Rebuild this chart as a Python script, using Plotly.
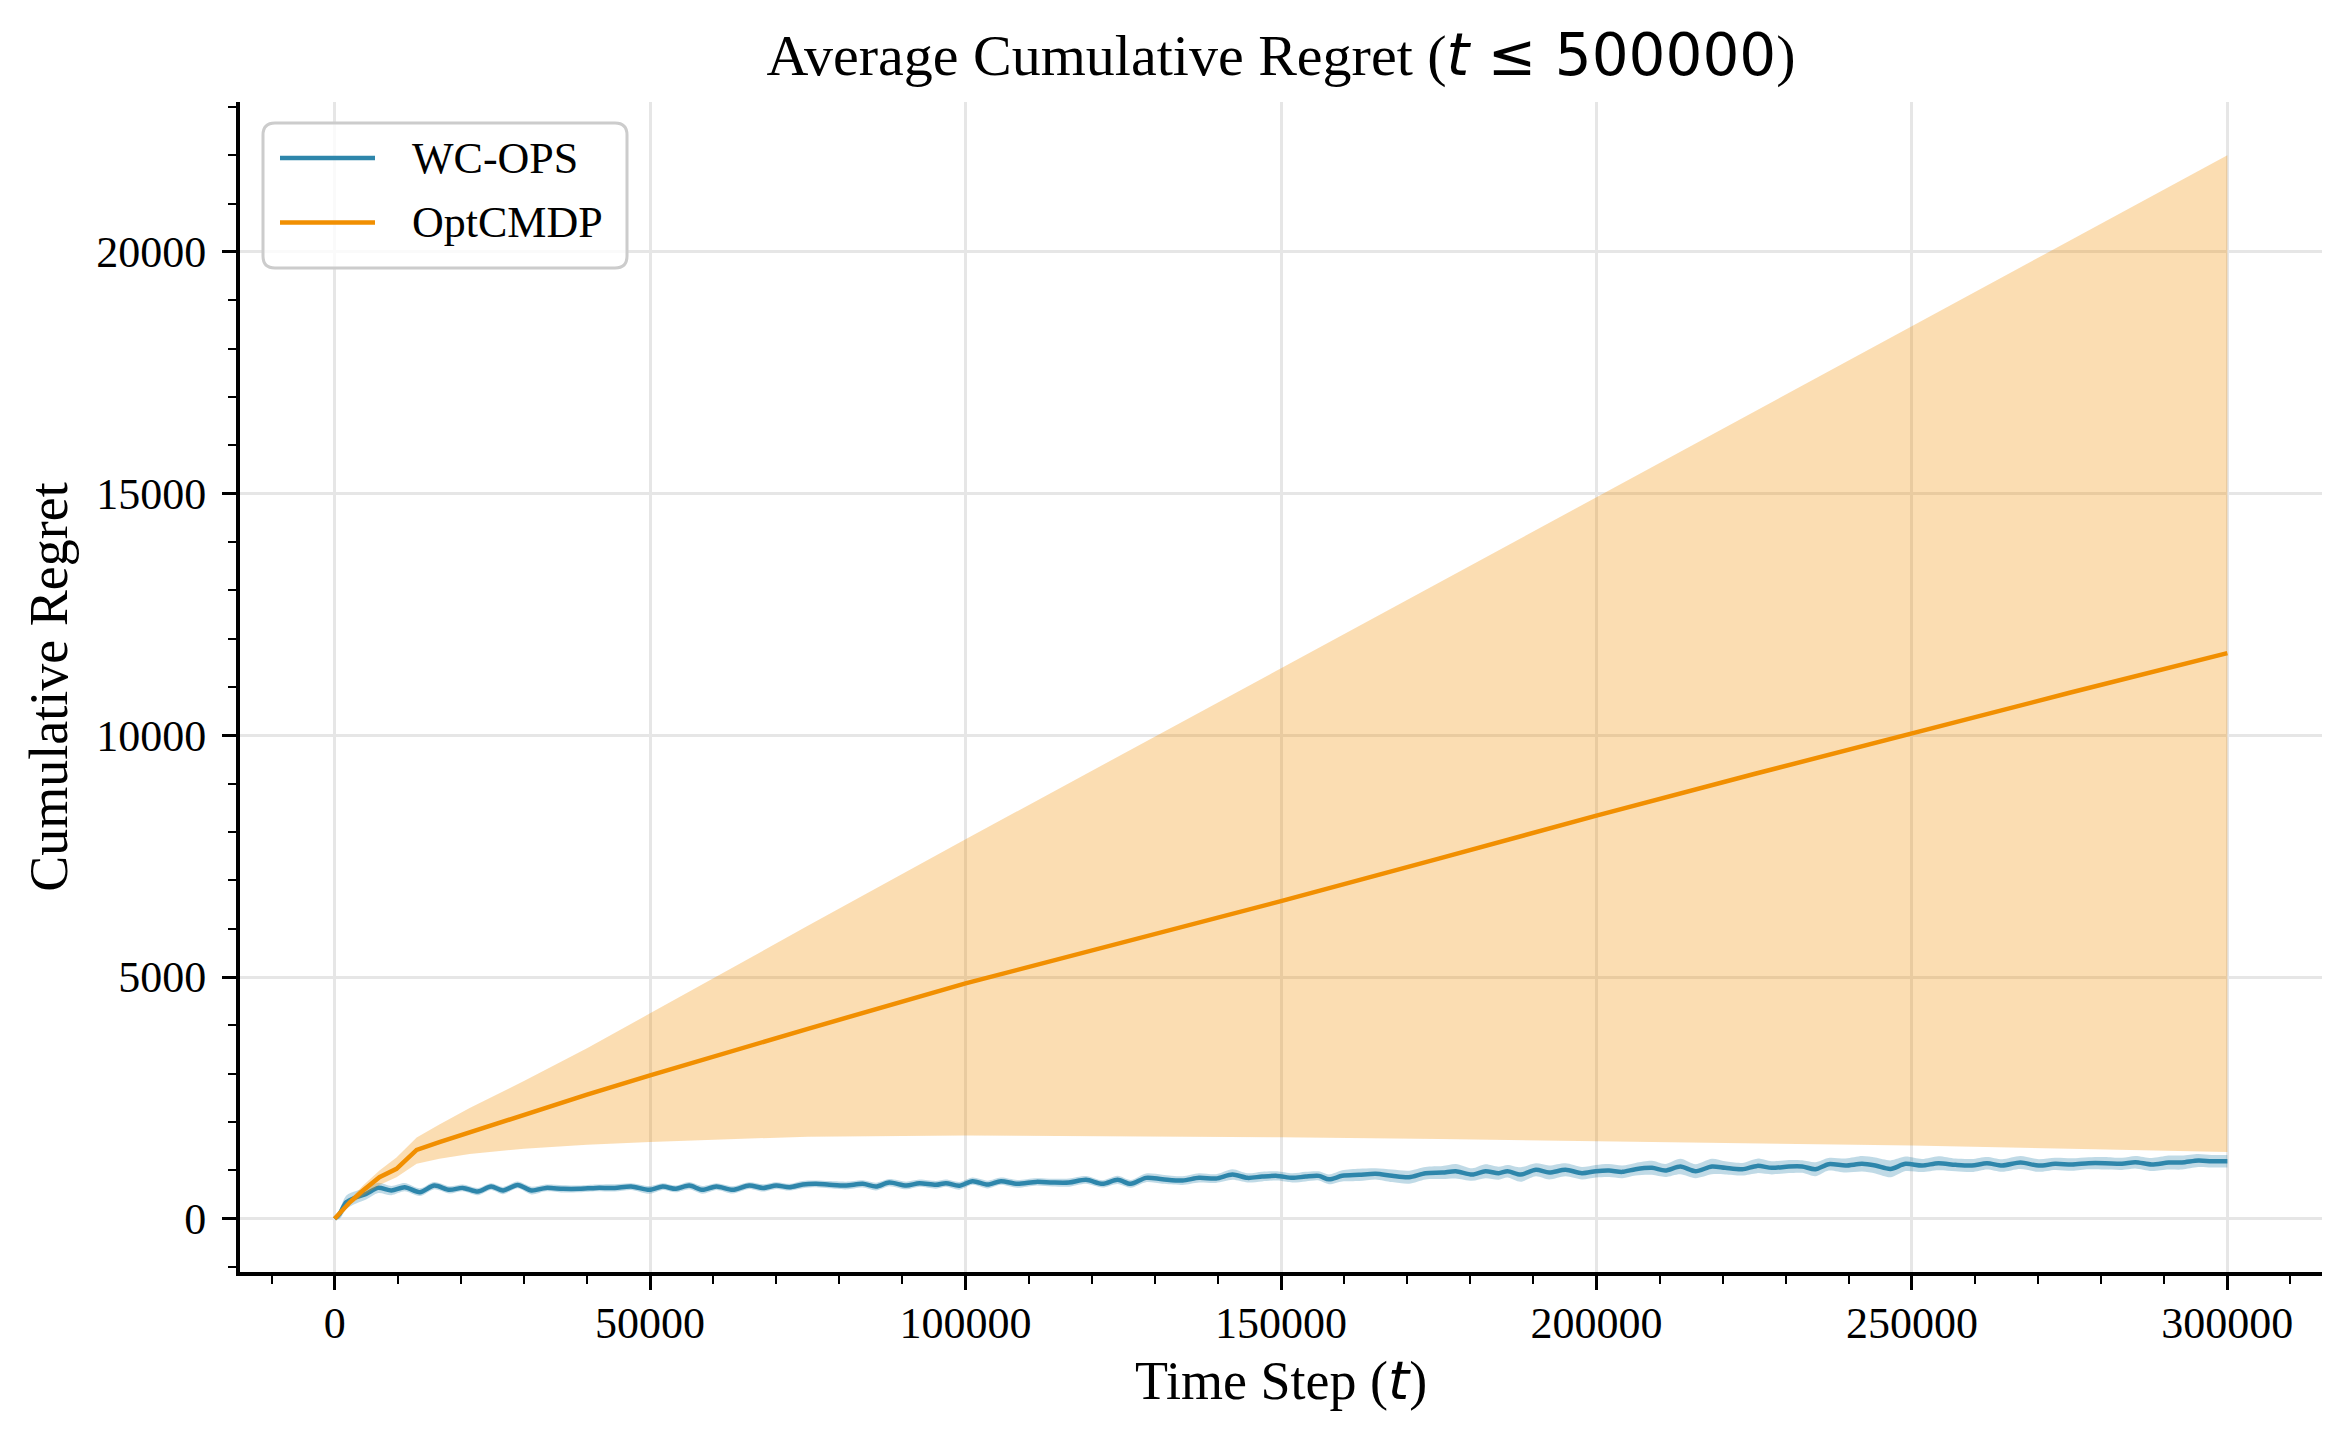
import plotly.graph_objects as go

# ---------------- data ----------------
wc_t = [0, 800, 1850, 3400, 5000, 6900, 9000, 11100, 13500, 15800,
        18200, 20300, 22700, 24800, 26700, 29000, 31200, 33500, 36200, 38800,
        41500, 44400, 47000, 49900, 52000, 54100, 56200, 58300, 60500, 63100,
        65700, 67900, 70000, 72100, 74200, 76300, 78400, 81100, 83700, 85800,
        87900, 90600, 92700, 95300, 96900, 99000, 101100, 103500, 105600, 108200,
        111200, 113800, 116400, 119100, 121700, 124100, 126200, 128600, 131200, 134400,
        137000, 139700, 142300, 144700, 147000, 149400, 151800, 153900, 156000, 157600,
        159700, 162400, 165000, 167600, 170300, 172900, 175600, 177700, 180300, 182400,
        184500, 185900, 188000, 190400, 192500, 195100, 197700, 199900, 202000, 204100,
        206200, 208800, 210900, 213300, 215700, 218300, 220400, 223100, 225500, 227800,
        230500, 232600, 234700, 236800, 239500, 242100, 244200, 246600, 249000, 251600,
        254200, 256900, 259500, 261900, 264300, 267200, 270100, 272700, 275400, 278000,
        280600, 283300, 285400, 288000, 290700, 292800, 295400, 297500, 300000]
wc_mean = [0, 103, 343, 447, 517, 640, 585, 654, 550, 688,
           599, 640, 564, 667, 585, 702, 585, 640, 620, 620,
           640, 640, 667, 599, 667, 620, 688, 599, 667, 599,
           688, 640, 688, 654, 709, 723, 706, 689, 723, 668,
           750, 689, 737, 703, 737, 682, 778, 709, 778, 723,
           764, 750, 750, 806, 723, 806, 723, 847, 819, 792,
           847, 833, 916, 847, 874, 888, 847, 874, 888, 816,
           889, 909, 930, 889, 861, 944, 957, 985, 916, 985,
           944, 985, 916, 1013, 957, 1013, 944, 985, 999, 971,
           1026, 1054, 999, 1081, 985, 1081, 1054, 1026, 1095, 1054,
           1081, 1081, 1026, 1130, 1102, 1137, 1102, 1033, 1137, 1102,
           1150, 1116, 1102, 1150, 1102, 1164, 1102, 1137, 1123, 1150,
           1150, 1137, 1171, 1123, 1164, 1164, 1205, 1191, 1191]
wc_std = [0, 100, 140, 130, 115, 105, 95, 85, 80, 75,
          75, 70, 75, 70, 75, 70, 80, 70, 75, 70,
          70, 75, 70, 80, 70, 70, 75, 80, 70, 75,
          70, 75, 70, 70, 75, 70, 75, 80, 75, 80,
          75, 80, 75, 80, 75, 80, 75, 80, 75, 80,
          75, 80, 85, 80, 75, 85, 80, 90, 95, 90,
          95, 90, 110, 95, 100, 95, 95, 100, 95, 100,
          115, 125, 115, 130, 135, 130, 135, 150, 130, 145,
          135, 130, 150, 135, 145, 135, 130, 130, 135, 130,
          130, 145, 135, 160, 145, 160, 135, 130, 150, 135,
          135, 130, 145, 130, 145, 160, 165, 175, 150, 135,
          145, 130, 135, 130, 130, 135, 130, 125, 130, 125,
          130, 125, 130, 135, 145, 145, 135, 130, 130]

opt_t = [0, 1300, 2400, 4500, 7100, 9800, 13000, 16600, 21400, 30000, 40000,
         50000, 75000, 100000, 125000, 150000, 175000, 200000, 225000, 250000,
         275000, 300000]
opt_mean = [0, 172, 343, 585, 860, 1033, 1426, 1584, 1790, 2160, 2570,
            2965, 3930, 4870, 5720, 6570, 7450, 8340, 9200, 10050, 10880, 11700]
opt_upper = [0, 220, 400, 690, 1000, 1270, 1680, 1950, 2290, 2850, 3530,
             4250, 6060, 7850, 9620, 11390, 13160, 14930, 16700, 18460, 20230, 22000]
opt_lower = [0, 130, 290, 480, 700, 860, 1140, 1240, 1340, 1450, 1530,
             1590, 1700, 1725, 1710, 1685, 1650, 1605, 1575, 1515, 1450, 1380]

x_ticks = [0, 50000, 100000, 150000, 200000, 250000, 300000]
y_ticks = [0, 5000, 10000, 15000, 20000]
series_names = ["WC-OPS", "OptCMDP"]

# ---------------- styling ----------------
BLUE = "#2E86AB"
ORANGE = "#F18F01"
BLUE_FILL = "rgba(46,134,171,0.3)"
ORANGE_FILL = "rgba(241,143,1,0.3)"
SERIF = "Liberation Serif"
MATH = "DejaVu Sans"

# page is 2352x1446; the HTML body has an 8px default margin
OFF = 8
W, H = 2352 - 2 * OFF, 1446 - 2 * OFF
ML, MT = 240 - OFF, 102 - OFF
MR = W + OFF - 2322
MB = H + OFF - 1272
PW, PH = W - ML - MR, H - MT - MB

wc_up = [m + s for m, s in zip(wc_mean, wc_std)]
wc_lo = [m - s for m, s in zip(wc_mean, wc_std)]

fig = go.Figure()
fig.add_trace(go.Scatter(x=wc_t, y=wc_up, mode="lines",
                         line=dict(width=0, shape="spline", smoothing=0.8),
                         showlegend=False, hoverinfo="skip"))
fig.add_trace(go.Scatter(x=wc_t, y=wc_lo, mode="lines",
                         line=dict(width=0, shape="spline", smoothing=0.8),
                         fill="tonexty", fillcolor=BLUE_FILL,
                         showlegend=False, hoverinfo="skip"))
fig.add_trace(go.Scatter(x=wc_t, y=wc_mean, mode="lines", name=series_names[0],
                         line=dict(color=BLUE, width=4.5, shape="spline", smoothing=0.8)))
fig.add_trace(go.Scatter(x=opt_t, y=opt_upper, mode="lines", line=dict(width=0),
                         showlegend=False, hoverinfo="skip"))
fig.add_trace(go.Scatter(x=opt_t, y=opt_lower, mode="lines", line=dict(width=0),
                         fill="tonexty", fillcolor=ORANGE_FILL,
                         showlegend=False, hoverinfo="skip"))
fig.add_trace(go.Scatter(x=opt_t, y=opt_mean, mode="lines", name=series_names[1],
                         line=dict(color=ORANGE, width=4.5)))

# ---------------- custom legend (matplotlib-like) ----------------
def px_x(p):  # page pixel -> paper x
    return (p - 240) / PW

def px_y(p):  # page pixel -> paper y
    return 1 - (p - 102) / PH

bx0, bx1, by0, by1 = px_x(263), px_x(627), px_y(123), px_y(268)
rx, ry = 12 / PW, 12 / PH
path = (f"M {bx0+rx},{by0} L {bx1-rx},{by0} Q {bx1},{by0} {bx1},{by0-ry} "
        f"L {bx1},{by1+ry} Q {bx1},{by1} {bx1-rx},{by1} "
        f"L {bx0+rx},{by1} Q {bx0},{by1} {bx0},{by1+ry} "
        f"L {bx0},{by0-ry} Q {bx0},{by0} {bx0+rx},{by0} Z")
shapes = [dict(type="path", xref="paper", yref="paper", path=path,
               line=dict(color="#cccccc", width=3),
               fillcolor="rgba(255,255,255,0.8)", layer="above")]
annotations = []
for i, (name, col) in enumerate(zip(series_names, [BLUE, ORANGE])):
    yy = px_y(158 + i * 64.5)
    shapes.append(dict(type="line", xref="paper", yref="paper",
                       x0=px_x(280), x1=px_x(375), y0=yy, y1=yy,
                       line=dict(color=col, width=4.5), layer="above"))
    annotations.append(dict(text=name, xref="paper", yref="paper",
                            x=px_x(410), y=yy, xanchor="left", yanchor="middle",
                            showarrow=False, font=dict(family=SERIF, size=44, color="black")))

title_text = (f"Average Cumulative Regret (<span style=\"font-family:{MATH}\">"
              f"<i>t</i> ≤ 500000</span>)")
xtitle = f"Time Step (<span style=\"font-family:{MATH}\"><i>t</i></span>)"

fig.update_layout(
    width=W, height=H,
    margin=dict(l=ML, r=MR, t=MT, b=MB, autoexpand=False),
    paper_bgcolor="white", plot_bgcolor="white",
    font=dict(family=SERIF, size=44, color="black"),
    showlegend=False,
    title=dict(text=title_text, x=(1281 - OFF) / W, xanchor="center",
               y=1 - (55 - OFF) / H, yanchor="middle", yref="container",
               font=dict(family=SERIF, size=58, color="black")),
    shapes=shapes, annotations=annotations,
)
fig.update_xaxes(
    range=[-15000, 315000], tickvals=x_ticks, ticktext=[str(v) for v in x_ticks],
    showline=True, linecolor="black", linewidth=4, mirror=False,
    ticks="outside", ticklen=14, tickwidth=3, tickcolor="black",
    showgrid=True, gridcolor="#e6e6e6", gridwidth=3, zeroline=False,
    tickfont=dict(family=SERIF, size=44), ticklabelstandoff=-5,
    minor=dict(dtick=10000, tick0=0, ticks="outside", ticklen=8, tickwidth=2,
               tickcolor="black", showgrid=False),
    title=dict(text=xtitle, font=dict(family=SERIF, size=54), standoff=15),
    automargin=False,
)
fig.update_yaxes(
    range=[-1100, 23100], tickvals=y_ticks, ticktext=[str(v) for v in y_ticks],
    showline=True, linecolor="black", linewidth=4, mirror=False,
    ticks="outside", ticklen=14, tickwidth=3, tickcolor="black",
    showgrid=True, gridcolor="#e6e6e6", gridwidth=3, zeroline=False,
    tickfont=dict(family=SERIF, size=44), ticklabelstandoff=7,
    minor=dict(dtick=1000, tick0=0, ticks="outside", ticklen=8, tickwidth=2,
               tickcolor="black", showgrid=False),
    title=dict(text="Cumulative Regret", font=dict(family=SERIF, size=54), standoff=12),
    automargin=False,
)

fig.write_html("out.html")
